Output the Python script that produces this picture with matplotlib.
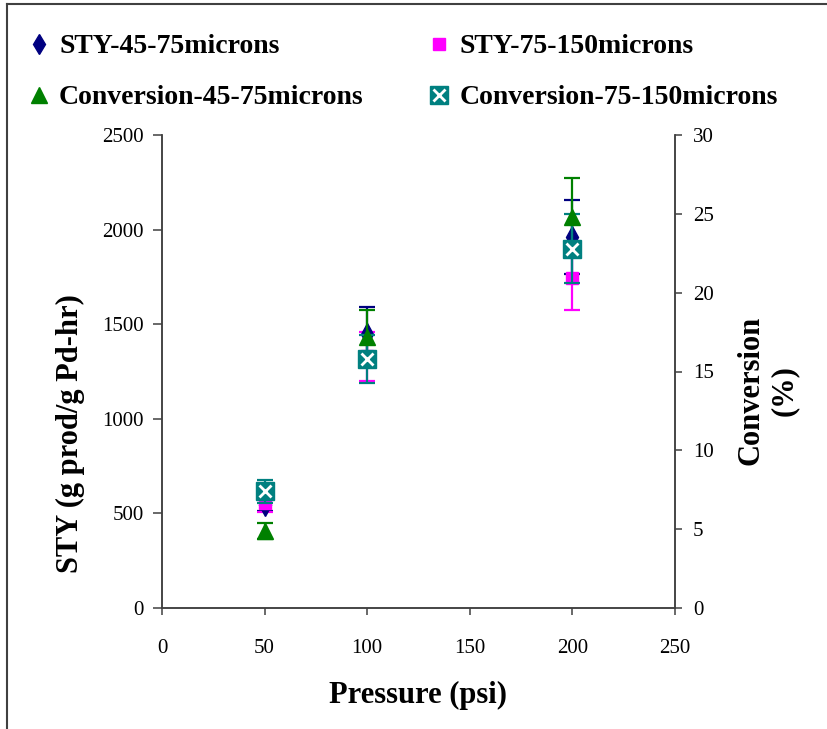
import matplotlib
matplotlib.use('Agg')
import matplotlib.pyplot as plt
from matplotlib.lines import Line2D
from matplotlib.legend_handler import HandlerTuple

plt.rcParams['font.family'] = ['Liberation Serif', 'DejaVu Serif']

pressure = [50, 100, 200]
sty_45 = [545, 1450, 1960]
sty_45_err = [30, 140, 195]
sty_75 = [555, 1330, 1745]
sty_75_err = [50, 130, 170]
conv_45 = [4.9, 17.2, 24.8]
conv_45_err = [0.5, 1.7, 2.5]
conv_75 = [7.4, 15.8, 22.8]
conv_75_err = [0.75, 1.5, 2.2]

labels = ['STY-45-75microns', 'STY-75-150microns',
          'Conversion-45-75microns', 'Conversion-75-150microns']
navy, magenta, green, teal = '#000080', '#FF00FF', '#008000', '#008080'

fig = plt.figure(figsize=(8.28, 7.29), dpi=100)
ax = fig.add_axes([162 / 828, 121 / 729, 513 / 828, 473 / 729])
ax2 = ax.twinx()

ebkw = dict(ls='none', capsize=5.5, elinewidth=1.6, capthick=1.6)
ax.errorbar(pressure, sty_45, yerr=sty_45_err, color=navy, marker='d',
            ms=11, mec=navy, **ebkw)
ax.errorbar(pressure, sty_75, yerr=sty_75_err, color=magenta, marker='s',
            ms=8.5, mec=magenta, **ebkw)
ax2.errorbar(pressure, conv_45, yerr=conv_45_err, color=green, marker='^',
             ms=11, mec=green, **ebkw)
ax2.errorbar(pressure, conv_75, yerr=conv_75_err, color=teal, marker='s',
             ms=13.5, mec=teal, **ebkw)
ax2.plot(pressure, conv_75, ls='none', marker='x', ms=9, mew=2,
         mec='white', zorder=5)

ax.set_xlim(0, 250)
ax.set_ylim(0, 2500)
ax2.set_ylim(0, 30)
ax.set_xticks(range(0, 251, 50))
ax.set_yticks(range(0, 2501, 500))
ax2.set_yticks(range(0, 31, 5))

for a in (ax, ax2):
    a.spines['top'].set_visible(False)
    for s in a.spines.values():
        s.set_color('#404040')
        s.set_linewidth(1.1)
ax.tick_params(axis='y', direction='out', length=6.5, width=1.1,
               color='#404040', labelsize=15, pad=6.5)
ax.tick_params(axis='x', direction='out', length=5, width=1.1,
               color='#404040', labelsize=15, pad=17)
ax2.tick_params(axis='y', direction='out', length=5, width=1.1,
                color='#404040', labelsize=15, pad=8)

ax.set_xlabel('Pressure (psi)', fontsize=22, fontweight='bold')
ax.xaxis.set_label_coords(0.5, -0.155)
ax.set_ylabel('STY (g prod/g Pd-hr)', fontsize=22, fontweight='bold')
ax.yaxis.set_label_coords(-0.15, 0.368)
ax2.set_ylabel('Conversion\n(%)', fontsize=22, fontweight='bold',
               rotation=90, multialignment='center')
ax2.yaxis.set_label_coords(1.12, 0.46)

h_navy = Line2D([], [], ls='none', marker='d', ms=10, color=navy)
h_mag = Line2D([], [], ls='none', marker='s', ms=8.5, color=magenta)
h_green = Line2D([], [], ls='none', marker='^', ms=11, color=green)
h_teal = (Line2D([], [], ls='none', marker='s', ms=13, color=teal),
          Line2D([], [], ls='none', marker='x', ms=8, mew=2, mec='white'))
fig.legend([h_navy, h_green, h_mag, h_teal],
           [labels[0], labels[2], labels[1], labels[3]],
           ncol=2, loc='upper left', bbox_to_anchor=(3 / 828, 1 - 9 / 729),
           frameon=False, handlelength=0.8, handletextpad=0.32,
           columnspacing=2.32, labelspacing=0.92,
           handler_map={tuple: HandlerTuple(ndivide=1, pad=0)},
           prop={'size': 20, 'weight': 'bold'})

# outer frame of the original figure
fx, fy = 7 / 828, 1 - 4 / 729
fig.add_artist(Line2D([fx, 1], [fy, fy], transform=fig.transFigure,
                      color='#404040', lw=1.5))
fig.add_artist(Line2D([fx, fx], [0, fy], transform=fig.transFigure,
                      color='#404040', lw=1.5))

fig.savefig('out.png', dpi=100)
